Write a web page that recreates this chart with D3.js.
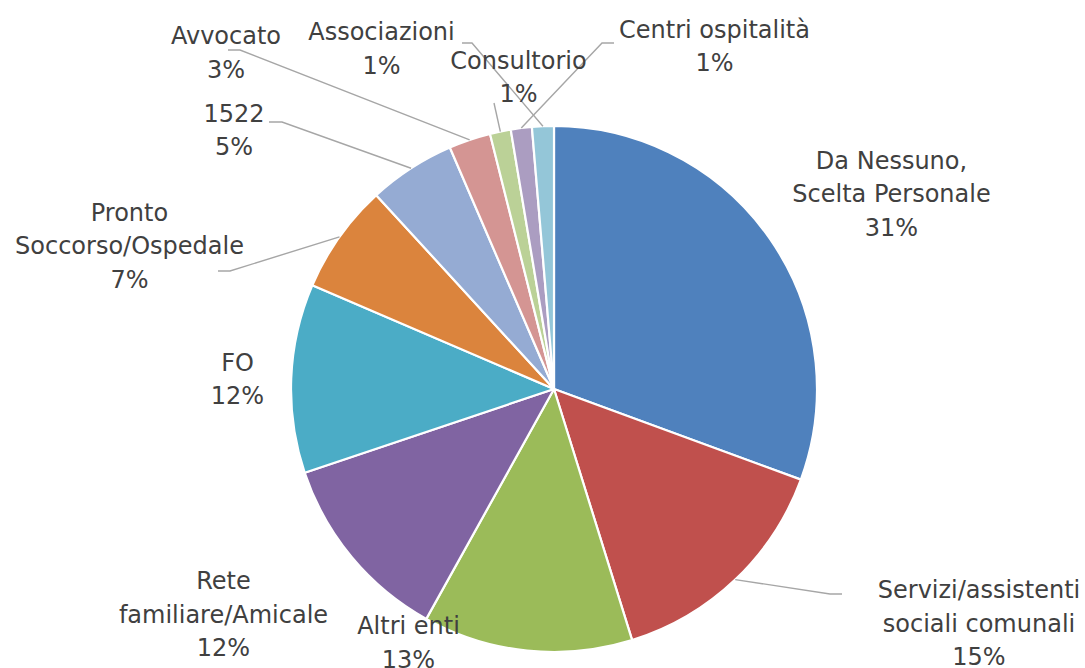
<!DOCTYPE html>
<html>
<head>
<meta charset="utf-8">
<script src="https://cdn.jsdelivr.net/npm/d3@7"></script>
<style>
  html, body { margin: 0; padding: 0; background: #ffffff; }
  svg { display: block; }
  text { font-family: "DejaVu Sans", Verdana, sans-serif; }
</style>
</head>
<body>
<svg id="chart" width="1085" height="668"></svg>
<script>
// ---- data ----
const categories = [
  "Da Nessuno, Scelta Personale",
  "Servizi/assistenti sociali comunali",
  "Altri enti",
  "Rete familiare/Amicale",
  "FO",
  "Pronto Soccorso/Ospedale",
  "1522",
  "Avvocato",
  "Consultorio",
  "Centri ospitalità",
  "Associazioni"
];
const values = [30.6, 14.6, 12.87, 11.77, 11.61, 6.74, 5.33, 2.57, 1.28, 1.29, 1.34];

// ---- layout / style (kept apart from the data) ----
const labelLines = [
  ["Da Nessuno,", "Scelta Personale"],
  ["Servizi/assistenti", "sociali comunali"],
  ["Altri enti"],
  ["Rete", "familiare/Amicale"],
  ["FO"],
  ["Pronto", "Soccorso/Ospedale"],
  ["1522"],
  ["Avvocato"],
  ["Consultorio"],
  ["Centri ospitalità"],
  ["Associazioni"]
];
// label centre x and first baseline y
const labelPos = [
  [891.5, 168.5], [979, 598], [408.5, 634], [223.5, 589], [237.5, 370.5],
  [129.5, 220.5], [234, 121.5], [226, 44], [518.5, 68.5], [714.5, 37.5], [381.5, 40]
];
// leader line elbow and end points (null = no leader line)
const leaders = [
  null, [[830, 594], [842, 594]], null, null, null,
  [[230, 271], [218, 271]], [[282, 122], [269, 122]], [[240, 50], [228, 50]],
  [[494, 103], [494, 103]], [[602, 43], [614, 43]], [[472, 43], [462, 43]]
];
const colors = ["#4F81BD", "#C0504D", "#9BBB59", "#8064A2", "#4BACC6", "#DB843D",
                "#95ABD3", "#D49593", "#BBD197", "#AB9DC1", "#94C6D8"];

const cx = 554, cy = 389, R = 263;
const lineH = 33.5;

const svg = d3.select("#chart");
const total = d3.sum(values);
const fmt = d3.format(".0%");

const pie = d3.pie().sort(null).value(d => d)(values);
const arc = d3.arc().innerRadius(0).outerRadius(R);

const g = svg.append("g").attr("transform", `translate(${cx},${cy})`);
g.selectAll("path.slice")
  .data(pie)
  .join("path")
  .attr("class", "slice")
  .attr("d", arc)
  .attr("fill", (d, i) => colors[i])
  .attr("stroke", "#ffffff")
  .attr("stroke-width", 2.2)
  .attr("stroke-linejoin", "round");

// leader lines
const line = d3.line();
pie.forEach((d, i) => {
  if (!leaders[i]) return;
  const a = (d.startAngle + d.endAngle) / 2;
  const p0 = [cx + R * Math.sin(a), cy - R * Math.cos(a)];
  svg.append("path")
    .attr("d", line([p0, leaders[i][0], leaders[i][1]]))
    .attr("fill", "none")
    .attr("stroke", "#A6A6A6")
    .attr("stroke-width", 1.4);
});

// labels
pie.forEach((d, i) => {
  const lines = labelLines[i].concat([fmt(values[i] / total)]);
  const t = svg.append("text")
    .attr("text-anchor", "middle")
    .attr("font-size", 24)
    .attr("fill", "#404040");
  lines.forEach((s, k) => {
    t.append("tspan")
      .attr("x", labelPos[i][0])
      .attr("y", labelPos[i][1] + k * lineH)
      .text(s);
  });
});
</script>
</body>
</html>
